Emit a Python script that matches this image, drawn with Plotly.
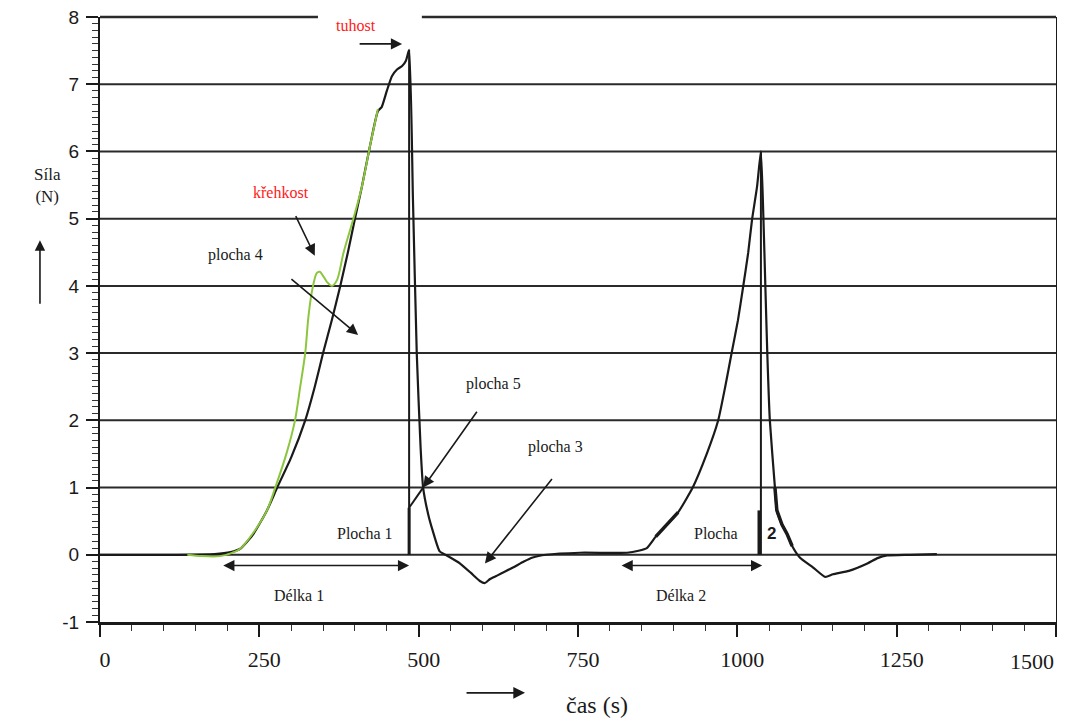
import plotly.graph_objects as go

# ---- data (time in s, force in N) ----
t_black = [0, 120, 180, 205, 220, 240, 262, 278, 300, 322, 337, 350, 364, 377, 389, 400, 411, 424, 436, 442,
           450, 458, 466, 474, 480, 485, 491, 497, 503, 507, 515, 522, 533, 544, 565, 582, 596, 604, 612, 623,
           648, 665, 679, 700, 753, 827, 845, 858, 872, 890, 907, 930, 952, 970, 981, 991, 1001, 1009, 1017,
           1023, 1031, 1037, 1041, 1044, 1047, 1051, 1059, 1062, 1070, 1078, 1086, 1098, 1119, 1138, 1150,
           1175, 1204, 1220, 1235, 1270, 1313]
f_black = [0, 0, 0.01, 0.04, 0.09, 0.3, 0.66, 1.0, 1.45, 2.0, 2.5, 3.0, 3.5, 4.0, 4.5, 5.0, 5.48, 6.1, 6.6, 6.66,
           6.9, 7.12, 7.22, 7.27, 7.35, 7.51, 5.3, 3.0, 1.6, 1.0, 0.6, 0.36, 0.05, -0.01, -0.13, -0.27, -0.39, -0.42,
           -0.36, -0.31, -0.19, -0.1, -0.04, 0.0, 0.03, 0.03, 0.06, 0.1, 0.27, 0.45, 0.63, 1.0, 1.5, 2.0, 2.5, 3.0,
           3.49, 3.98, 4.49, 4.98, 5.48, 6.0, 4.98, 3.98, 3.0, 2.0, 1.0, 0.66, 0.45, 0.31, 0.13, -0.04, -0.19, -0.33,
           -0.29, -0.24, -0.13, -0.05, -0.01, 0.0, 0.01]

t_green = [137, 160, 188, 205, 220, 240, 262, 275, 293, 306, 314, 322, 327, 333, 340, 345, 350, 356, 364, 372,
           382, 397, 411, 424, 436]
f_green = [0, -0.02, -0.02, 0.02, 0.09, 0.32, 0.66, 1.0, 1.52, 2.0, 2.49, 3.0, 3.54, 3.94, 4.19, 4.21, 4.15,
           4.06, 4.0, 4.09, 4.49, 4.98, 5.48, 6.1, 6.63]

peak1_t, peak1_f = 485, 7.51
peak2_t, peak2_f = 1037, 6.0
plocha1_bar = 0.7          # height of the Plocha 1 bar (N)
plocha2_t, plocha2_bar = 1034, 0.66
thick_ranges = [(872, 907), (1059, 1086)]

x_ticks = [0, 250, 500, 750, 1000, 1250, 1500]
x_ticktext = ["0", "250", "500", "750", "1000", "1250", ""]   # last label placed right-aligned below
y_ticks = [-1, 0, 1, 2, 3, 4, 5, 6, 7, 8]
y_ticktext = ["-1", "0", "1", "2", "3", "4", "5", "6", "7", "8"]
grid_levels = [0, 1, 2, 3, 4, 5, 6, 7]
top_gap = (342, 505)       # gap in the top frame line (s)
x_range = [0, 1500]
y_range = [-1, 8]

SERIF = '"Liberation Serif", "Times New Roman", Times, serif'
SANS = '"Liberation Sans", Arial, sans-serif'
INK = "#1a1a1a"

fig = go.Figure()

# horizontal grid lines
for g in grid_levels:
    fig.add_shape(type="line", xref="paper", yref="y", x0=0, x1=1, y0=g, y1=g,
                  line=dict(color="#2a2a2a", width=2), layer="below")
# top frame line with gap
span = x_range[1] - x_range[0]
for a, b in [(x_range[0], top_gap[0]), (top_gap[1], x_range[1])]:
    fig.add_shape(type="line", xref="x domain", yref="y domain",
                  x0=(a - x_range[0]) / span, x1=(b - x_range[0]) / span, y0=1, y1=1,
                  line=dict(color="#2a2a2a", width=2.5))

# main curves
fig.add_trace(go.Scatter(x=t_black, y=f_black, mode="lines",
                         line=dict(color=INK, width=2.2, shape="spline", smoothing=0.5),
                         showlegend=False, hoverinfo="skip"))
fig.add_trace(go.Scatter(x=t_green, y=f_green, mode="lines",
                         line=dict(color="#8cc63e", width=2, shape="spline", smoothing=0.8),
                         showlegend=False, hoverinfo="skip"))
# thicker segments
for lo, hi in thick_ranges:
    xs = [t for t in t_black if lo <= t <= hi]
    ys = [f for t, f in zip(t_black, f_black) if lo <= t <= hi]
    fig.add_trace(go.Scatter(x=xs, y=ys, mode="lines", line=dict(color=INK, width=3.5),
                             showlegend=False, hoverinfo="skip"))

# vertical lines at peaks
fig.add_trace(go.Scatter(x=[peak1_t, peak1_t], y=[0, peak1_f], mode="lines",
                         line=dict(color=INK, width=2), showlegend=False, hoverinfo="skip"))
fig.add_trace(go.Scatter(x=[peak2_t, peak2_t], y=[0, peak2_f], mode="lines",
                         line=dict(color=INK, width=2), showlegend=False, hoverinfo="skip"))
# Plocha bars
fig.add_trace(go.Scatter(x=[peak1_t, peak1_t], y=[0, plocha1_bar], mode="lines",
                         line=dict(color=INK, width=3), showlegend=False, hoverinfo="skip"))
fig.add_trace(go.Scatter(x=[plocha2_t, plocha2_t], y=[0, plocha2_bar], mode="lines",
                         line=dict(color=INK, width=3), showlegend=False, hoverinfo="skip"))
# line continuing plocha 5 arrow to the bar
fig.add_trace(go.Scatter(x=[507, peak1_t], y=[1.0, plocha1_bar], mode="lines",
                         line=dict(color=INK, width=2), showlegend=False, hoverinfo="skip"))

ann = []

def arrow(x, y, ax, ay, side="end", size=1.4, width=1.6):
    ann.append(dict(x=x, y=y, ax=ax, ay=ay, xref="x", yref="y", axref="x", ayref="y",
                    text="", showarrow=True, arrowhead=2, arrowsize=size, arrowwidth=width,
                    arrowcolor=INK, arrowside=side, standoff=0, startstandoff=0))

def label(x, y, text, color=INK, size=16, font=SERIF):
    ann.append(dict(x=x, y=y, xref="x", yref="y", text=text, showarrow=False,
                    xanchor="center", yanchor="middle",
                    font=dict(family=font, size=size, color=color)))

label(402, 7.87, "tuhost", color="#ff1a1a")
arrow(474, 7.6, 405, 7.6)
label(284, 5.39, "křehkost", color="#ff1a1a")
arrow(337, 4.45, 306, 5.06)
label(212, 4.46, "plocha 4")
arrow(405, 3.27, 298, 4.12)
label(617, 2.54, "plocha 5")
arrow(507, 1.0, 593, 2.15)
label(715, 1.61, "plocha 3")
arrow(604, -0.13, 711, 1.15)
label(416, 0.31, "Plocha 1")
label(967, 0.31, "Plocha")
label(1053, 0.31, "<b>2</b>", size=17, font=SANS)
label(312, -0.6, "Délka 1")
arrow(485, -0.16, 191, -0.16, side="end+start")
label(912, -0.6, "Délka 2")
arrow(1039, -0.16, 816, -0.16, side="end+start")

# last x tick label, right-aligned at the frame edge
ann.append(dict(x=1, y=-0.0645, xref="paper", yref="paper", text=str(x_ticks[-1]), showarrow=False,
                xanchor="right", yanchor="middle", font=dict(family=SERIF, size=22, color=INK)))

# axis titles
ann.append(dict(x=-0.0544, y=0.722, xref="paper", yref="paper", text="Síla<br>(N)", showarrow=False,
                xanchor="center", yanchor="middle",
                font=dict(family=SERIF, size=17, color=INK), align="center"))
ann.append(dict(x=-0.0628, y=0.631, xref="paper", yref="paper", text="", showarrow=True,
                ax=0, ay=65, arrowhead=2, arrowsize=1.3, arrowwidth=1.6, arrowcolor=INK, standoff=0))
ann.append(dict(x=0.52, y=-0.137, xref="paper", yref="paper", text="čas (s)", showarrow=False,
                xanchor="center", yanchor="middle",
                font=dict(family=SERIF, size=24, color=INK)))
ann.append(dict(x=0.4446, y=-0.117, xref="paper", yref="paper", text="", showarrow=True,
                ax=-60, ay=0, arrowhead=2, arrowsize=1.3, arrowwidth=1.8, arrowcolor=INK, standoff=0))

# page body has an 8px margin, so the figure is 8px smaller and margins shifted
fig.update_layout(
    width=1057, height=710,
    margin=dict(l=92, r=9, t=9, b=96, autoexpand=False),
    paper_bgcolor="white", plot_bgcolor="white",
    annotations=ann,
    showlegend=False,
    xaxis=dict(range=x_range, tickvals=x_ticks, ticktext=x_ticktext, showgrid=False, zeroline=False,
               showline=True, linecolor=INK, linewidth=2.5, automargin=False,
               ticks="outside", ticklen=12, tickwidth=1.5, tickcolor=INK,
               minor=dict(dtick=50, tick0=0, ticks="outside", ticklen=6, tickwidth=1.2, tickcolor="#333"),
               tickfont=dict(family=SERIF, size=22, color=INK), ticklabelstandoff=4,
               ticklabelshift=5),
    yaxis=dict(range=y_range, tickvals=y_ticks, ticktext=y_ticktext, showgrid=False, zeroline=False,
               showline=True, linecolor=INK, linewidth=2, mirror=True, automargin=False,
               ticks="outside", ticklen=12, tickwidth=1.5, tickcolor=INK,
               minor=dict(dtick=0.1, tick0=0, ticks="outside", ticklen=6, tickwidth=1.2, tickcolor="#333"),
               tickfont=dict(family=SANS, size=19, color=INK), ticklabelstandoff=3,
               ticklabeloverflow="allow"),
)

fig.write_html("out.html")
